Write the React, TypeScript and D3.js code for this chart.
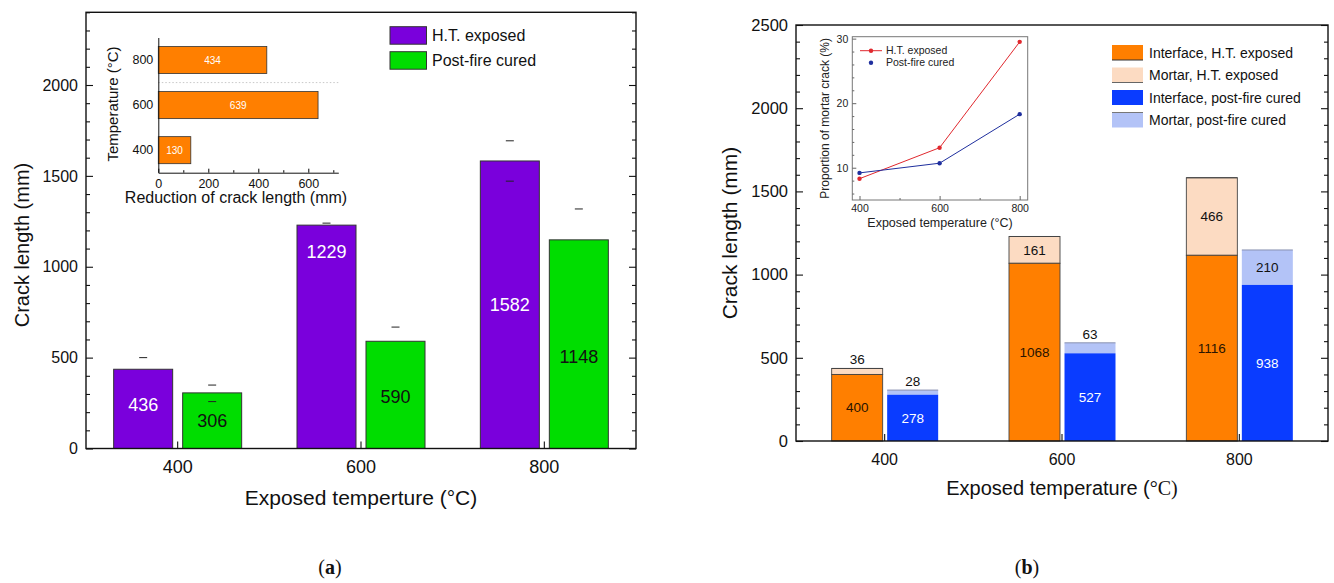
import React, { useEffect, useRef } from 'react';
import * as d3 from 'd3';

// ---- data: panel (a) ----
const temps = ['400', '600', '800'];
const htExposed = [436, 1229, 1582];
const postFire = [306, 590, 1148];
const htErrHi = [500, 1240, 1693];
const htErrLo: (number | null)[] = [null, null, 1471];
const pfErrHi = [349, 668, 1318];
const pfErrLo: (number | null)[] = [258, null, null];

// inset of (a)
const insetTemps = ['800', '600', '400'];
const reduction = [434, 639, 130];

// ---- data: panel (b) ----
const interfaceHT = [400, 1068, 1116];
const mortarHT = [36, 161, 466];
const interfacePF = [278, 527, 938];
const mortarPF = [28, 63, 210];

// inset of (b)
const insetX = [400, 600, 800];
const propHT = [8.3, 13.1, 29.5];
const propPF = [9.2, 10.7, 18.3];

const FONT = '"Liberation Sans", Arial, Helvetica, sans-serif';

const PURPLE = '#7a00dc';
const GREEN = '#00dd00';
const ORANGE = '#ff7f00';
const PEACH = '#fcdbc2';
const BLUE = '#0a3cff';
const LBLUE = '#b3c3f7';

type Sel = d3.Selection<SVGSVGElement, unknown, null, undefined>;

function frameAxes(
  g: d3.Selection<SVGGElement, unknown, null, undefined>,
  x: d3.ScaleBand<string>,
  y: d3.ScaleLinear<number, number>,
  box: { left: number; right: number; top: number; bottom: number },
  major: number[],
  minor: number[],
  yFont: number,
  xFont: number,
  xPad: number
) {
  // minor ticks
  g.append('g')
    .attr('transform', `translate(${box.left},0)`)
    .call(d3.axisLeft(y).tickValues(minor).tickSize(-4).tickFormat(() => ''))
    .call(a => a.select('.domain').remove());
  g.append('g')
    .attr('transform', `translate(${box.right},0)`)
    .call(d3.axisRight(y).tickValues(minor).tickSize(-4).tickFormat(() => ''))
    .call(a => a.select('.domain').remove());
  // major ticks
  g.append('g')
    .attr('transform', `translate(${box.left},0)`)
    .call(d3.axisLeft(y).tickValues(major).tickSize(-7).tickPadding(8).tickFormat(d3.format('d')))
    .call(a => a.select('.domain').remove())
    .call(a => a.selectAll('text').attr('font-size', yFont).attr('font-family', FONT).attr('fill', '#111'));
  g.append('g')
    .attr('transform', `translate(${box.right},0)`)
    .call(d3.axisRight(y).tickValues(major).tickSize(-7).tickFormat(() => ''))
    .call(a => a.select('.domain').remove());
  g.append('g')
    .attr('transform', `translate(0,${box.bottom})`)
    .call(d3.axisBottom(x).tickSize(-7).tickPadding(xPad).tickSizeOuter(0))
    .call(a => a.select('.domain').remove())
    .call(a => a.selectAll('text').attr('font-size', xFont).attr('font-family', FONT).attr('fill', '#111'));
  g.selectAll('.tick line').attr('stroke', '#111').attr('stroke-width', 1.1);
  g.append('rect')
    .attr('x', box.left).attr('y', box.top)
    .attr('width', box.right - box.left).attr('height', box.bottom - box.top)
    .attr('fill', 'none').attr('stroke', '#111').attr('stroke-width', 1.4);
}

function drawLeft(svg: Sel) {
  const box = { left: 86, right: 636, top: 12.3, bottom: 448.5 };
  const g = svg.append('g');
  const x = d3.scaleBand<string>().domain(temps).range([box.left, box.right]);
  const y = d3.scaleLinear().domain([0, 2400]).range([box.bottom, box.top]);
  const bw = 59;
  const gap = 5;
  const labelFracHT = [0.55, 0.88, 0.5];
  const labelFracPF = [0.5, 0.48, 0.44];

  const series = [
    { vals: htExposed, hi: htErrHi, lo: htErrLo, fill: PURPLE, x0: -gap - bw, txt: '#fff', frac: labelFracHT },
    { vals: postFire, hi: pfErrHi, lo: pfErrLo, fill: GREEN, x0: gap, txt: '#111', frac: labelFracPF },
  ];
  series.forEach(s => {
    temps.forEach((t, i) => {
      const c = x(t)! + x.bandwidth() / 2;
      const bx = c + s.x0;
      g.append('rect')
        .attr('x', bx).attr('y', y(s.vals[i]))
        .attr('width', bw).attr('height', y(0) - y(s.vals[i]))
        .attr('fill', s.fill).attr('stroke', '#333').attr('stroke-width', 1);
      g.append('text')
        .attr('x', bx + bw / 2).attr('y', y(s.vals[i] * s.frac[i]))
        .attr('dy', '0.35em').attr('text-anchor', 'middle')
        .attr('font-size', 18).attr('fill', s.txt)
        .text(s.vals[i]);
      const caps = [s.hi[i], s.lo[i]];
      caps.forEach(v => {
        if (v == null) return;
        g.append('line')
          .attr('x1', bx + bw / 2 - 4).attr('x2', bx + bw / 2 + 4)
          .attr('y1', y(v)).attr('y2', y(v))
          .attr('stroke', '#222').attr('stroke-width', 1);
      });
    });
  });

  frameAxes(g, x, y, box, d3.range(0, 2001, 500), d3.range(0, 2401, 100).filter(v => v % 500 !== 0), 16, 18, 12);

  g.append('text')
    .attr('transform', `translate(29,${245}) rotate(-90)`)
    .attr('text-anchor', 'middle').attr('font-size', 20).attr('fill', '#111')
    .text('Crack length (mm)');
  g.append('text')
    .attr('x', (box.left + box.right) / 2 + 0).attr('y', 505)
    .attr('text-anchor', 'middle').attr('font-size', 21).attr('fill', '#111')
    .text('Exposed temperture (°C)');

  // legend
  const legend = [
    { label: 'H.T. exposed', fill: PURPLE },
    { label: 'Post-fire cured', fill: GREEN },
  ];
  legend.forEach((d, i) => {
    const ly = 26.7 + i * 25;
    g.append('rect').attr('x', 390).attr('y', ly).attr('width', 36.5).attr('height', 17.5)
      .attr('fill', d.fill).attr('stroke', '#333').attr('stroke-width', 1);
    g.append('text').attr('x', 432).attr('y', ly + 14.5).attr('font-size', 16).attr('fill', '#111').text(d.label);
  });

  // inset: reduction of crack length
  const ix = d3.scaleLinear().domain([0, 720]).range([158.3, 338.3]);
  const iy = d3.scaleBand<string>().domain(insetTemps).range([37.5, 172.7]).paddingInner(0.4).paddingOuter(0.2);
  const ig = g.append('g');
  ig.append('line')
    .attr('x1', ix(0)).attr('x2', ix(720))
    .attr('y1', (iy('800')! + iy.bandwidth() + iy('600')!) / 2)
    .attr('y2', (iy('800')! + iy.bandwidth() + iy('600')!) / 2)
    .attr('stroke', '#bbb').attr('stroke-dasharray', '1.5,2').attr('stroke-width', 0.8);
  insetTemps.forEach((t, i) => {
    ig.append('rect')
      .attr('x', ix(0)).attr('y', iy(t)!)
      .attr('width', ix(reduction[i]) - ix(0)).attr('height', iy.bandwidth())
      .attr('fill', ORANGE).attr('stroke', '#333').attr('stroke-width', 0.8);
    ig.append('text')
      .attr('x', (ix(0) + ix(reduction[i])) / 2).attr('y', iy(t)! + iy.bandwidth() / 2)
      .attr('dy', '0.35em').attr('text-anchor', 'middle')
      .attr('font-size', 10).attr('fill', '#fff').text(reduction[i]);
  });
  ig.append('g')
    .attr('transform', `translate(0,172.7)`)
    .call(d3.axisBottom(ix).tickValues([100, 300, 500, 700]).tickSize(-2.5).tickFormat(() => ''))
    .call(a => a.select('.domain').remove());
  ig.append('g')
    .attr('transform', `translate(0,172.7)`)
    .call(d3.axisBottom(ix).tickValues([0, 200, 400, 600]).tickSize(-4).tickPadding(6).tickSizeOuter(0))
    .call(a => a.select('.domain').attr('stroke', '#111'))
    .call(a => a.selectAll('text').attr('font-size', 12.5).attr('font-family', FONT).attr('fill', '#111'));
  ig.append('g')
    .attr('transform', `translate(158.3,0)`)
    .call(d3.axisLeft(iy).tickSize(0).tickPadding(5))
    .call(a => a.select('.domain').attr('stroke', '#111'))
    .call(a => a.selectAll('text').attr('font-size', 12.5).attr('font-family', FONT).attr('fill', '#111'));
  ig.append('text')
    .attr('transform', 'translate(118,104) rotate(-90)')
    .attr('text-anchor', 'middle').attr('font-size', 15).attr('fill', '#111')
    .text('Temperature (°C)');
  ig.append('text')
    .attr('x', 236).attr('y', 203)
    .attr('text-anchor', 'middle').attr('font-size', 16).attr('fill', '#111')
    .text('Reduction of crack length (mm)');
}

function drawRight(svg: Sel) {
  const box = { left: 796, right: 1328, top: 25, bottom: 441 };
  const g = svg.append('g');
  const x = d3.scaleBand<string>().domain(temps).range([box.left, box.right]);
  const y = d3.scaleLinear().domain([0, 2500]).range([box.bottom, box.top]);
  const bw = 51;

  const stacks = [
    { base: interfaceHT, top: mortarHT, c1: ORANGE, c2: PEACH, x0: -53, t1: '#2a1400', stroke: '#444' },
    { base: interfacePF, top: mortarPF, c1: BLUE, c2: LBLUE, x0: 2.5, t1: '#fff', stroke: 'none' },
  ];
  stacks.forEach(s => {
    temps.forEach((t, i) => {
      const c = x(t)! + x.bandwidth() / 2;
      const bx = c + s.x0;
      const b = s.base[i];
      const tot = b + s.top[i];
      g.append('rect')
        .attr('x', bx).attr('y', y(tot)).attr('width', bw).attr('height', y(b) - y(tot))
        .attr('fill', s.c2).attr('stroke', s.stroke === 'none' ? '#8a8fa8' : s.stroke)
        .attr('stroke-width', s.stroke === 'none' ? 0 : 0.9);
      g.append('line')
        .attr('x1', bx).attr('x2', bx + bw).attr('y1', y(tot)).attr('y2', y(tot))
        .attr('stroke', s.stroke === 'none' ? '#8890b0' : '#444').attr('stroke-width', 1);
      g.append('rect')
        .attr('x', bx).attr('y', y(b)).attr('width', bw).attr('height', y(0) - y(b))
        .attr('fill', s.c1).attr('stroke', s.stroke).attr('stroke-width', 0.9);
      g.append('text')
        .attr('x', bx + bw / 2).attr('y', y(b / 2)).attr('dy', '0.35em')
        .attr('text-anchor', 'middle').attr('font-size', 13.5).attr('fill', s.t1)
        .text(b);
      const segH = y(b) - y(tot);
      g.append('text')
        .attr('x', bx + bw / 2)
        .attr('y', segH < 18 ? y(tot) - 4 : y(b + s.top[i] / 2))
        .attr('dy', segH < 18 ? 0 : '0.35em')
        .attr('text-anchor', 'middle').attr('font-size', 13.5).attr('fill', '#111')
        .text(s.top[i]);
    });
  });

  frameAxes(g, x, y, box, d3.range(0, 2501, 500), d3.range(0, 2501, 100).filter(v => v % 500 !== 0), 16.5, 16, 13);

  g.append('text')
    .attr('transform', `translate(737,${(box.top + box.bottom) / 2}) rotate(-90)`)
    .attr('text-anchor', 'middle').attr('font-size', 21).attr('fill', '#111')
    .text('Crack length (mm)');
  const xl = g.append('text')
    .attr('x', (box.left + box.right) / 2).attr('y', 495)
    .attr('text-anchor', 'middle').attr('font-size', 20).attr('fill', '#111');
  xl.append('tspan').text('Exposed temperature (');
  xl.append('tspan').attr('font-family', '"Liberation Serif", "Times New Roman", serif').text('°C)');

  // legend
  const legend = [
    { label: 'Interface, H.T. exposed', fill: ORANGE, edge: '#333' },
    { label: 'Mortar, H.T. exposed', fill: PEACH, edge: '#666' },
    { label: 'Interface, post-fire cured', fill: BLUE, edge: null },
    { label: 'Mortar, post-fire cured', fill: LBLUE, edge: null },
  ];
  legend.forEach((d, i) => {
    const ly = 45 + i * 22.5;
    g.append('rect').attr('x', 1112).attr('y', ly).attr('width', 31).attr('height', 15).attr('fill', d.fill);
    if (d.edge) {
      g.append('line').attr('x1', 1112).attr('x2', 1143).attr('y1', ly + 15).attr('y2', ly + 15)
        .attr('stroke', d.edge).attr('stroke-width', 1);
    } else if (i === 3) {
      g.append('line').attr('x1', 1112).attr('x2', 1143).attr('y1', ly).attr('y2', ly)
        .attr('stroke', '#777').attr('stroke-width', 1);
    }
    g.append('text').attr('x', 1149).attr('y', ly + 12.5).attr('font-size', 14).attr('fill', '#111').text(d.label);
  });

  // inset: proportion of mortar crack
  const ib = { left: 852.3, right: 1027.7, top: 36.7, bottom: 200 };
  const ix = d3.scaleLinear().domain([382, 820]).range([ib.left, ib.right]);
  const iy = d3.scaleLinear().domain([5, 30.3]).range([ib.bottom, ib.top]);
  const ig = g.append('g');
  ig.append('rect').attr('x', ib.left).attr('y', ib.top)
    .attr('width', ib.right - ib.left).attr('height', ib.bottom - ib.top)
    .attr('fill', '#fff').attr('stroke', '#777').attr('stroke-width', 1);
  ig.append('g').attr('transform', `translate(${ib.left},0)`)
    .call(d3.axisLeft(iy).tickValues(d3.range(6, 30, 2).filter(v => v % 10 !== 0)).tickSize(-2).tickFormat(() => ''))
    .call(a => a.select('.domain').remove());
  ig.append('g').attr('transform', `translate(${ib.left},0)`)
    .call(d3.axisLeft(iy).tickValues([10, 20, 30]).tickSize(-4).tickPadding(4))
    .call(a => a.select('.domain').remove())
    .call(a => a.selectAll('text').attr('font-size', 10.5).attr('font-family', FONT).attr('fill', '#222'));
  ig.append('g').attr('transform', `translate(0,${ib.bottom})`)
    .call(d3.axisBottom(ix).tickValues([500, 700]).tickSize(-2).tickFormat(() => ''))
    .call(a => a.select('.domain').remove());
  ig.append('g').attr('transform', `translate(0,${ib.bottom})`)
    .call(d3.axisBottom(ix).tickValues(insetX).tickSize(-4).tickPadding(5))
    .call(a => a.select('.domain').remove())
    .call(a => a.selectAll('text').attr('font-size', 10.5).attr('font-family', FONT).attr('fill', '#222'));
  ig.selectAll('.tick line').attr('stroke', '#666');

  const lines = [
    { vals: propHT, color: '#e0282e', label: 'H.T. exposed', showLine: true },
    { vals: propPF, color: '#1f2f9e', label: 'Post-fire cured', showLine: false },
  ];
  const lineGen = d3.line<number>().x((_, i) => ix(insetX[i])).y(v => iy(v));
  lines.forEach((s, k) => {
    ig.append('path').attr('d', lineGen(s.vals)).attr('fill', 'none')
      .attr('stroke', s.color).attr('stroke-width', 1);
    s.vals.forEach((v, i) => {
      ig.append('circle').attr('cx', ix(insetX[i])).attr('cy', iy(v)).attr('r', 2.2).attr('fill', s.color);
    });
    const ly = 50.7 + k * 12;
    if (s.showLine) {
      ig.append('line').attr('x1', 860).attr('x2', 882).attr('y1', ly).attr('y2', ly)
        .attr('stroke', s.color).attr('stroke-width', 1);
    }
    ig.append('circle').attr('cx', 871).attr('cy', ly).attr('r', 2.2).attr('fill', s.color);
    ig.append('text').attr('x', 886).attr('y', ly + 3.6).attr('font-size', 10.5).attr('fill', '#222').text(s.label);
  });
  ig.append('text')
    .attr('transform', `translate(829,${(ib.top + ib.bottom) / 2}) rotate(-90)`)
    .attr('text-anchor', 'middle').attr('font-size', 12).attr('fill', '#222')
    .text('Proportion of mortar crack (%)');
  ig.append('text')
    .attr('x', 940).attr('y', 226.5)
    .attr('text-anchor', 'middle').attr('font-size', 12.5).attr('fill', '#222')
    .text('Exposed temperature (°C)');
}

const App = () => {
  const ref = useRef<SVGSVGElement>(null);

  useEffect(() => {
    const svg = d3.select(ref.current!) as Sel;
    svg.selectAll('*').remove();
    svg.attr('font-family', FONT);
    drawLeft(svg);
    drawRight(svg);

    // sub-captions
    const captions = [
      { x: 330, letter: 'a' },
      { x: 1027, letter: 'b' },
    ];
    captions.forEach(c => {
      const t = svg.append('text')
        .attr('x', c.x).attr('y', 574).attr('text-anchor', 'middle')
        .attr('font-family', '"Liberation Serif", "Times New Roman", serif')
        .attr('font-size', 20).attr('fill', '#111');
      t.append('tspan').text('(');
      t.append('tspan').attr('font-weight', 'bold').text(c.letter);
      t.append('tspan').text(')');
    });
  }, []);

  return (
    <svg
      ref={ref}
      width={1334}
      height={583}
      style={{ position: 'absolute', left: 0, top: 0, background: '#fff' }}
    />
  );
};

export default App;
